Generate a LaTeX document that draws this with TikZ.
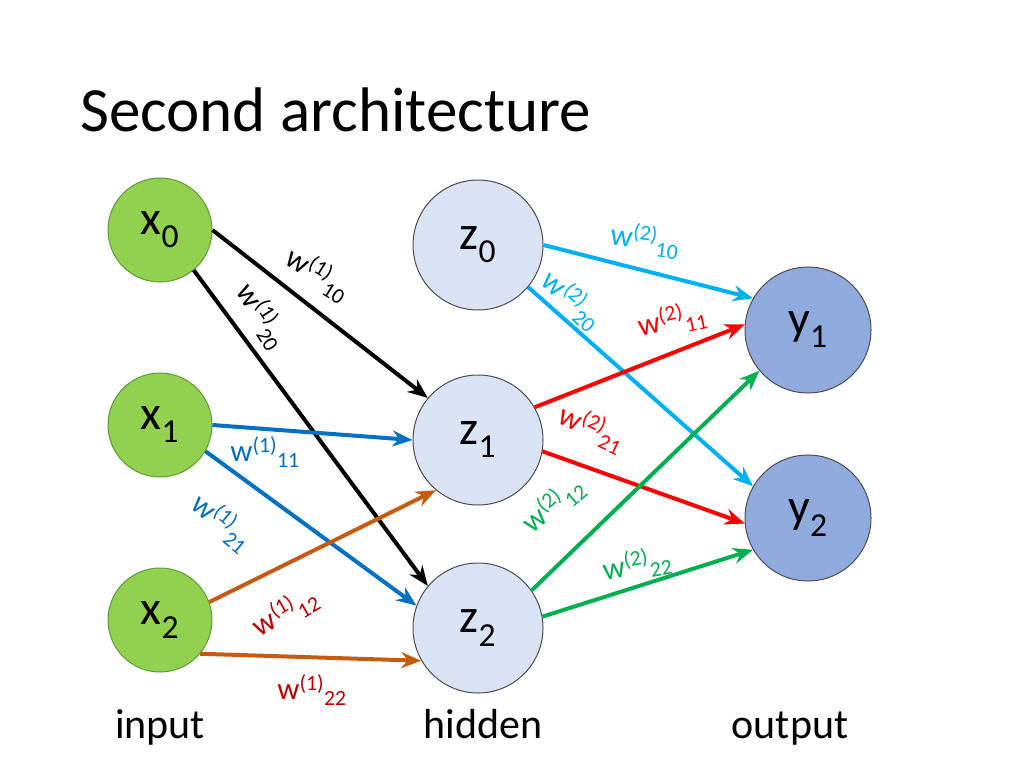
\documentclass[tikz,border=0pt]{standalone}
\usepackage{fontspec}
\setmainfont{Carlito}
\usetikzlibrary{positioning,arrows.meta}
\definecolor{ingreen}{HTML}{92D050}
\definecolor{inborder}{HTML}{5E9A35}
\definecolor{hidfill}{HTML}{DAE3F3}
\definecolor{outfill}{HTML}{8FAADC}
\definecolor{wblue}{HTML}{0070C0}
\definecolor{wcyan}{HTML}{00B0F0}
\definecolor{worange}{HTML}{C55A11}
\definecolor{wdred}{HTML}{C00000}
\definecolor{wred}{HTML}{FF0000}
\definecolor{wgreen}{HTML}{00B050}
\newcommand{\wt}[3]{w\textsuperscript{(#1)}\textsubscript{#2#3}}
\begin{document}
\begin{tikzpicture}[x=1pt,y=-1pt]
    \tikzstyle{every node}=[inner sep=0]
    \tikzstyle{input}=[circle,draw=inborder,fill=ingreen,line width=1pt,minimum size=104,font=\fontsize{48}{48}\selectfont]
    \tikzstyle{hidden}=[circle,draw=black!70,fill=hidfill,line width=1pt,minimum size=130,font=\fontsize{48}{48}\selectfont]
    \tikzstyle{output}=[circle,draw=black!70,fill=outfill,line width=1pt,minimum size=126,font=\fontsize{48}{48}\selectfont]
    \tikzstyle{link}=[line width=4pt,-{Stealth[length=20pt,width=16pt]}]
    \tikzstyle{weight}=[font=\fontsize{31}{31}\selectfont]
    \tikzstyle{layer}=[anchor=base,font=\fontsize{42}{42}\selectfont]
    \useasboundingbox (0,0) rectangle (1024,768);

    \node[anchor=base west,font=\fontsize{63}{63}\selectfont] (title) at (80,131) {Second architecture};

    \node[input] (x0) at (160,230) {x\textsubscript{0}};
    \node[input] (x1) at (160,425) {x\textsubscript{1}};
    \node[input] (x2) at (160,620) {x\textsubscript{2}};
    \node[hidden] (z0) at (478,245) {z\textsubscript{0}};
    \node[hidden] (z1) at (478,440) {z\textsubscript{1}};
    \node[hidden] (z2) at (478,628) {z\textsubscript{2}};
    \node[output] (y1) at (808,330) {y\textsubscript{1}};
    \node[output] (y2) at (808,518) {y\textsubscript{2}};

    \draw[link,black] (x0.east) -- (z1.140);
    \draw[link,black] (x0.-50) -- (z2.140);
    \draw[link,wblue] (x1.east) -- (z1.west);
    \draw[link,wblue] (x1.-30) -- (z2.160);
    \draw[link,worange] (x2.20) -- (z1.-130);
    \draw[link,worange] (x2.-40) -- (z2.-150);
    \draw[link,wcyan] (z0.east) -- (y1.150);
    \draw[link,wcyan] (z0.-40) -- (y2.150);
    \draw[link,wred] (z1.30) -- (y1.175);
    \draw[link,wred] (z1.-10) -- (y2.-175);
    \draw[link,wgreen] (z2.35) -- (y1.-140);
    \draw[link,wgreen] (z2.10) -- (y2.-150);

    \node[weight,rotate=-32] (w110) at (318,274) {\wt{1}{1}{0}};
    \node[weight,rotate=-58,black] (w120) at (262,316) {\wt{1}{2}{0}};
    \node[weight,wblue] (w111) at (265,452) {\wt{1}{1}{1}};
    \node[weight,rotate=-40,wblue] (w121) at (222,522) {\wt{1}{2}{1}};
    \node[weight,rotate=30,wdred] (w112) at (285,612) {\wt{1}{1}{2}};
    \node[weight,wdred] (w122) at (312,690) {\wt{1}{2}{2}};
    \node[weight,rotate=-8,wcyan] (w210) at (645,240) {\wt{2}{1}{0}};
    \node[weight,rotate=-42,wcyan] (w220) at (572,300) {\wt{2}{2}{0}};
    \node[weight,rotate=12,wred] (w211) at (672,320) {\wt{2}{1}{1}};
    \node[weight,rotate=-25,wred] (w221) at (592,428) {\wt{2}{2}{1}};
    \node[weight,rotate=40,wgreen] (w212) at (553,505) {\wt{2}{1}{2}};
    \node[weight,rotate=10,wgreen] (w222) at (637,565) {\wt{2}{2}{2}};

    \node[layer] (lin) at (160,738) {input};
    \node[layer] (lhid) at (483,738) {hidden};
    \node[layer] (lout) at (790,738) {output};
\end{tikzpicture}
\end{document}
